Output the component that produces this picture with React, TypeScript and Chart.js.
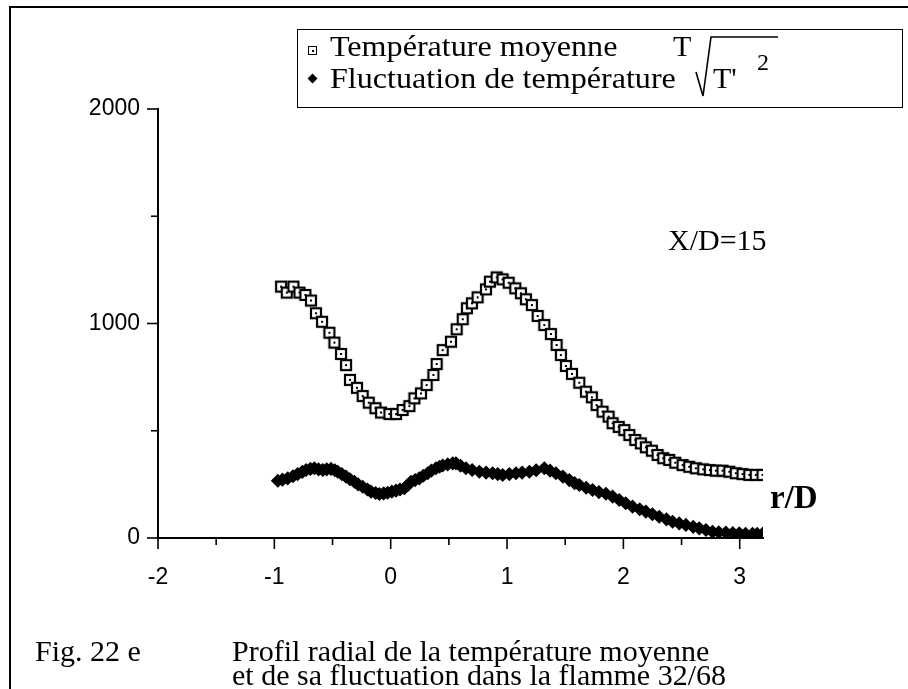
import React, { useEffect, useRef } from "react";
import { Chart, registerables } from "chart.js";

Chart.register(...registerables);

// r/D positions and mean temperature T (open squares)
const meanR = [
  -0.942, -0.893, -0.836, -0.784, -0.733, -0.685, -0.642, -0.59, -0.527, -0.484,
  -0.427, -0.384, -0.35, -0.29, -0.241, -0.189, -0.131, -0.083, -0.011, 0.046,
  0.103, 0.161, 0.204, 0.26, 0.309, 0.367, 0.395, 0.447, 0.518, 0.567,
  0.619, 0.655, 0.698, 0.747, 0.819, 0.853, 0.911, 0.962, 1.014, 1.071,
  1.119, 1.162, 1.214, 1.263, 1.32, 1.377, 1.426, 1.463, 1.506, 1.558,
  1.621, 1.678, 1.729, 1.77, 1.821, 1.873, 1.907, 1.96, 2.008, 2.051,
  2.102, 2.15, 2.193, 2.245, 2.294, 2.343, 2.394, 2.446, 2.509, 2.566,
  2.623, 2.686, 2.743, 2.795, 2.852, 2.91, 2.966, 3.024, 3.082, 3.138, 3.196,
];
const meanT = [
  1172, 1144, 1172, 1144, 1133, 1107, 1048, 1008, 957, 911,
  858, 806, 737, 700, 662, 631, 605, 585, 578, 578,
  597, 615, 651, 674, 713, 760, 811, 876, 915, 973,
  1020, 1071, 1094, 1122, 1159, 1195, 1215, 1206, 1190, 1164,
  1141, 1113, 1086, 1035, 993, 951, 900, 853, 802, 765,
  724, 682, 656, 620, 589, 566, 535, 518, 503, 480,
  457, 441, 423, 407, 387, 372, 364, 351, 340, 332,
  325, 320, 317, 314, 314, 309, 302, 298, 294, 294, 294,
];

// r/D positions and temperature fluctuation sqrt(T'^2) (filled diamonds)
const flucR = [
  -0.97, -0.93, -0.885, -0.84, -0.8, -0.76, -0.727, -0.69, -0.656, -0.62,
  -0.584, -0.55, -0.513, -0.48, -0.455, -0.42, -0.384, -0.35, -0.312, -0.28,
  -0.241, -0.2, -0.169, -0.13, -0.097, -0.06, -0.026, 0.01, 0.046, 0.08,
  0.118, 0.15, 0.174, 0.21, 0.246, 0.28, 0.318, 0.35, 0.389, 0.42,
  0.447, 0.49, 0.533, 0.561, 0.6, 0.647, 0.7, 0.762, 0.82, 0.876,
  0.92, 0.962, 1.02, 1.077, 1.13, 1.192, 1.25, 1.32, 1.37, 1.42,
  1.48, 1.535, 1.58, 1.621, 1.68, 1.735, 1.79, 1.85, 1.907, 1.965,
  2.02, 2.079, 2.14, 2.193, 2.25, 2.308, 2.37, 2.423, 2.48, 2.537,
  2.6, 2.652, 2.71, 2.766, 2.82, 2.881, 2.94, 2.996, 3.05, 3.11, 3.15, 3.196,
];
const flucT = [
  267, 272, 278, 288, 298, 308, 317, 322, 325, 320,
  317, 320, 322, 316, 309, 298, 286, 274, 262, 250,
  239, 226, 216, 210, 205, 208, 211, 216, 221, 226,
  232, 248, 262, 270, 278, 290, 302, 314, 325, 332,
  338, 343, 348, 348, 337, 325, 317, 309, 305, 302,
  298, 294, 298, 302, 305, 309, 316, 325, 314, 302,
  286, 270, 256, 247, 234, 224, 214, 206, 193, 177,
  162, 146, 134, 123, 111, 99, 87, 76, 68, 61,
  52, 45, 37, 29, 27, 25, 23, 22, 20, 19, 19, 19,
];

const xMin = -2;
const xMax = 3.2;
const xStep = 0.5;
const yMin = 0;
const yMax = 2000;
const yStep = 500;
const xLabelEvery = 1;
const yLabelEvery = 1000;

const SERIF = '"Liberation Serif", "Times New Roman", serif';
const SANS = '"Liberation Sans", Arial, sans-serif';

const isMultiple = (v: number, step: number) => Math.abs(v / step - Math.round(v / step)) < 1e-9;

const tickPlugin = {
  id: "customTicks",
  afterDraw(chart: any) {
    const ctx = chart.ctx;
    const xs = chart.scales.x;
    const ys = chart.scales.y;
    ctx.save();
    ctx.strokeStyle = "#000";
    ctx.lineWidth = 1.6;
    xs.ticks.forEach((t: any) => {
      const px = xs.getPixelForValue(t.value);
      const major = isMultiple(t.value, xLabelEvery);
      ctx.beginPath();
      ctx.moveTo(px, xs.top);
      ctx.lineTo(px, xs.top + (major ? 11 : 7));
      ctx.stroke();
    });
    ys.ticks.forEach((t: any) => {
      const py = ys.getPixelForValue(t.value);
      const major = isMultiple(t.value, yLabelEvery);
      ctx.beginPath();
      ctx.moveTo(ys.right, py);
      ctx.lineTo(ys.right - (major ? 11 : 7), py);
      ctx.stroke();
    });
    ctx.restore();
  },
};

function makeSquare(): HTMLCanvasElement {
  const c = document.createElement("canvas");
  c.width = 14;
  c.height = 14;
  const g = c.getContext("2d")!;
  g.fillStyle = "#fff";
  g.fillRect(1, 1, 12, 12);
  g.strokeStyle = "#000";
  g.lineWidth = 2.2;
  g.strokeRect(2, 2, 10, 10);
  g.fillStyle = "#000";
  g.fillRect(6, 6, 2, 2);
  return c;
}

const abs = (extra: React.CSSProperties): React.CSSProperties => ({
  position: "absolute",
  whiteSpace: "nowrap",
  lineHeight: 1,
  margin: 0,
  ...extra,
});

export default function App() {
  const ref = useRef<HTMLCanvasElement | null>(null);

  useEffect(() => {
    if (!ref.current) return;
    const square = makeSquare();
    const chart = new Chart(ref.current, {
      type: "scatter",
      data: {
        datasets: [
          {
            label: "Température moyenne T",
            data: meanR.map((r, i) => ({ x: r, y: meanT[i] })),
            pointStyle: square as any,
            pointRadius: 7,
            showLine: false,
          },
          {
            label: "Fluctuation de température",
            data: flucR.map((r, i) => ({ x: r, y: flucT[i] })),
            pointStyle: "rectRot",
            pointRadius: 6,
            backgroundColor: "#000",
            borderColor: "#000",
            borderWidth: 1.5,
            showLine: false,
          },
        ],
      },
      options: {
        animation: false,
        responsive: false,
        layout: { padding: { left: 0, right: 145, top: 109, bottom: 0 } },
        plugins: { legend: { display: false }, tooltip: { enabled: false } },
        scales: {
          x: {
            type: "linear",
            min: xMin,
            max: xMax,
            afterFit: (s: any) => {
              s.height = 151;
            },
            afterBuildTicks: (s: any) => {
              const out: any[] = [];
              const n = Math.floor((xMax - xMin) / xStep + 1e-9);
              for (let i = 0; i <= n; i++) out.push({ value: +(xMin + i * xStep).toFixed(6) });
              s.ticks = out;
            },
            grid: {
              display: true,
              drawOnChartArea: false,
              drawTicks: true,
              tickLength: 11,
              color: "rgba(0,0,0,0)",
              tickColor: "rgba(0,0,0,0)",
            },
            border: { display: true, color: "#000", width: 2 },
            ticks: {
              stepSize: xStep,
              autoSkip: false,
              maxRotation: 0,
              padding: 15,
              color: "#000",
              font: { family: SANS, size: 23 },
              callback: (v: any) => (isMultiple(v, xLabelEvery) ? String(Math.round(v)) : ""),
            },
          },
          y: {
            type: "linear",
            min: yMin,
            max: yMax,
            afterFit: (s: any) => {
              s.width = 158;
            },
            grid: {
              display: true,
              drawOnChartArea: false,
              drawTicks: true,
              tickLength: 11,
              color: "rgba(0,0,0,0)",
              tickColor: "rgba(0,0,0,0)",
            },
            border: { display: true, color: "#000", width: 2 },
            ticks: {
              stepSize: yStep,
              autoSkip: false,
              padding: 7,
              color: "#000",
              font: { family: SANS, size: 23 },
              callback: (v: any) => (isMultiple(v, yLabelEvery) ? String(v) : ""),
            },
          },
        },
      },
      plugins: [tickPlugin],
    });
    return () => chart.destroy();
  }, []);

  const serif30: React.CSSProperties = { fontFamily: SERIF, fontSize: 30, color: "#000" };

  return (
    <div style={{ position: "fixed", left: 0, top: 0, width: 908, height: 689, background: "#fff", overflow: "hidden" }}>
      <canvas ref={ref} width={908} height={689} style={{ display: "block", position: "absolute", left: 0, top: 0 }} />
      {/* outer frame */}
      <div style={{ position: "absolute", left: 9, top: 6, width: 2, height: 683, background: "#000" }} />
      <div style={{ position: "absolute", left: 9, top: 6, width: 899, height: 2, background: "#000" }} />

      {/* legend box */}
      <div style={{ position: "absolute", left: 297, top: 29, width: 604, height: 77, border: "1.5px solid #000" }} />
      <div style={{ position: "absolute", left: 308, top: 46, width: 7, height: 7, border: "1.5px solid #000", background: "#fff" }}>
        <div style={{ position: "absolute", left: 2.5, top: 2.5, width: 2, height: 2, background: "#000" }} />
      </div>
      <div style={{ position: "absolute", left: 309, top: 75, width: 7, height: 7, background: "#000", transform: "rotate(45deg)" }} />
      <span style={abs({ ...serif30, left: 330, top: 31, transform: "scaleX(1.07)", transformOrigin: "left" })}>Température moyenne</span>
      <span style={abs({ ...serif30, left: 673, top: 31 })}>T</span>
      <span style={abs({ ...serif30, left: 330, top: 63, transform: "scaleX(1.07)", transformOrigin: "left" })}>Fluctuation de température</span>
      <svg width={908} height={120} style={{ position: "absolute", left: 0, top: 0 }}>
        <polyline points="696,72 703,96 711,37 778,37" fill="none" stroke="#000" strokeWidth={1.6} />
      </svg>
      <span style={abs({ ...serif30, left: 713, top: 63 })}>T'</span>
      <span style={abs({ ...serif30, fontSize: 24, left: 757, top: 50 })}>2</span>

      {/* annotations */}
      <span style={abs({ ...serif30, left: 668, top: 225 })}>X/D=15</span>
      <span style={abs({ ...serif30, fontSize: 33, fontWeight: "bold", left: 770, top: 481 })}>r/D</span>

      {/* caption */}
      <span style={abs({ ...serif30, left: 35, top: 636 })}>Fig. 22 e</span>
      <span style={abs({ ...serif30, left: 232, top: 636 })}>Profil radial de la température moyenne</span>
      <span style={abs({ ...serif30, left: 232, top: 660 })}>et de sa fluctuation dans la flamme 32/68</span>
    </div>
  );
}
